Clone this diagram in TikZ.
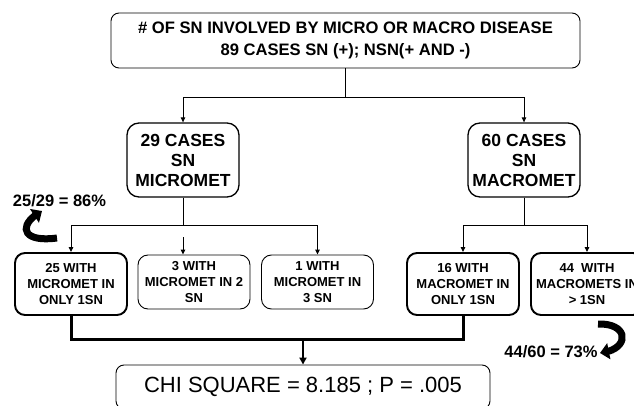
\documentclass[tikz,border=0pt]{standalone}
\usepackage{fontspec}
\setmainfont{Liberation Sans}
\usepackage{tikz}
\usetikzlibrary{arrows.meta,bending,positioning}

\begin{document}
\begin{tikzpicture}[
  x=1pt,y=-1pt,
  box/.style={draw,align=center,inner sep=2pt},
  topbox/.style={box,rounded corners=8pt,line width=0.9pt,minimum width=469pt,minimum height=55pt,font=\bfseries\fontsize{16.6}{22}\selectfont},
  casebox/.style={box,rounded corners=12pt,line width=1.3pt,minimum width=112pt,minimum height=74pt,font=\bfseries\fontsize{17.5}{20}\selectfont},
  subbox/.style={box,rounded corners=10pt,line width=0.9pt,minimum width=112pt,minimum height=54pt,font=\bfseries\fontsize{13}{16}\selectfont},
  heavybox/.style={subbox,line width=1.9pt,minimum height=62pt},
  chibox/.style={box,rounded corners=8pt,line width=0.9pt,minimum width=374pt,minimum height=44pt,font=\fontsize{22}{26}\selectfont},
  pct/.style={font=\bfseries\fontsize{16.5}{18}\selectfont,inner sep=0pt},
  arrow/.style={-{Triangle[length=5pt,width=4.5pt]},line width=0.9pt},
  heavyline/.style={line width=3pt},
  heavyarrow/.style={-{Triangle[length=7pt,width=7pt]},line width=2.5pt},
  bendarrow/.style={-{Triangle[length=9pt,width=16pt,flex]},line width=7pt}
]
  \useasboundingbox (0,0) rectangle (634,406);
  \clip (0,0) rectangle (634,406);
  \node[topbox] (all) at (345.5,40.5) {\# OF SN INVOLVED BY MICRO OR MACRO DISEASE\\89 CASES SN (+); NSN(+ AND -)};
  \node[casebox] (micro) at (183,160) {29 CASES\\SN\\MICROMET};
  \node[casebox] (macro) at (524,160) {60 CASES\\SN\\MACROMET};
  \node[heavybox] (mi1) at (71,284) {25 WITH\\MICROMET IN\\ONLY 1SN};
  \node[subbox] (mi2) at (194,282) {3 WITH\\MICROMET IN 2\\SN};
  \node[subbox] (mi3) at (317.5,282) {1 WITH\\MICROMET IN\\3 SN};
  \node[heavybox] (ma1) at (463,284) {16 WITH\\MACROMET IN\\ONLY 1SN};
  \node[heavybox] (ma2) at (587,284) {44~~WITH\\MACROMETS IN\\> 1SN};
  \node[chibox] (chi) at (303,387) {CHI SQUARE = 8.185 ; P = .005};
  \node[pct] (microrate) at (59.5,201) {25/29 = 86\%};
  \node[pct] (macrorate) at (551,352) {44/60 = 73\%};
  \coordinate (gap) at (0,237);
  \coordinate (join) at (303,339);
  % tree connectors
  \draw[arrow] (all.south) -- ++(0,29) -| (micro.north);
  \draw[arrow] (all.south) -- ++(0,29) -| (macro.north);
  \draw[arrow] (micro.south) -- ++(0,28) -| (mi1.north);
  \draw[arrow] (micro.south) -- ++(0,28) -| (mi3.north);
  \draw[arrow] (micro.south |- gap) -- (micro.south |- mi2.north);
  \draw[arrow] (macro.south) -- ++(0,28) -| (ma1.north);
  \draw[arrow] (macro.south) -- ++(0,28) -| (ma2.north);
  \draw[heavyline] (mi1.south) |- (join) -| (ma1.south);
  \draw[heavyarrow] (join) -- (chi.north);
  % curved arrows by the rates
  \draw[bendarrow] (57,238) .. controls (20,243) and (18,224) .. (42,211);
  \draw[bendarrow] (598,324) .. controls (630,323) and (630,350) .. (600,353);
\end{tikzpicture}
\end{document}
